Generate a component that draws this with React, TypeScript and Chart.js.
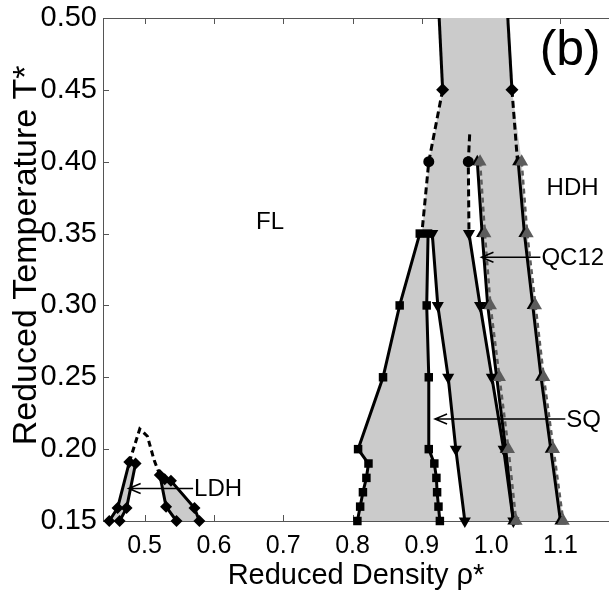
import React, { useEffect, useRef } from 'react';
import { Chart, registerables } from 'chart.js';

Chart.register(...registerables);

const FONT = '"Liberation Sans", Arial, Helvetica, sans-serif';

// Axis ticks
const densityTicks = [0.5, 0.6, 0.7, 0.8, 0.9, 1.0, 1.1];
const temperatureTicks = [0.15, 0.2, 0.25, 0.3, 0.35, 0.4, 0.45, 0.5];

// Upper branch of the FL / high-density coexistence envelope
const topT = [0.5, 0.45];
const topLeftRho = [0.925, 0.93];
const topRightRho = [1.024, 1.03];
const leftDashT = [0.45, 0.4, 0.35];
const leftDashRho = [0.93, 0.91, 0.9];
const midDashT = [0.419, 0.4, 0.35];
const midDashRho = [0.969, 0.967, 0.968];
const rightDashT = [0.45, 0.4];
const rightDashRho = [1.03, 1.038];

// FL–SQ coexistence (squares)
const sqT = [0.35, 0.3, 0.25, 0.2, 0.19, 0.18, 0.17, 0.16, 0.15];
const flSqRho = [0.897, 0.868, 0.844, 0.808, 0.823, 0.82, 0.815, 0.811, 0.807];
const sqFlRho = [0.909, 0.907, 0.91, 0.91, 0.918, 0.921, 0.922, 0.924, 0.926];

// SQ / QC12 boundaries (down triangles)
const mainT = [0.35, 0.3, 0.25, 0.2, 0.15];
const sqQcRho = [0.915, 0.923, 0.938, 0.949, 0.962];
const qcSqRho = [0.968, 0.984, 1.001, 1.018, 1.032];

// QC12 / HDH boundaries (up triangles)
const upT = [0.4, 0.35, 0.3, 0.25, 0.2, 0.15];
const qcHdhRho = [0.98, 0.987, 0.995, 1.008, 1.021, 1.032];
const qcHdhRhoB = [0.984, 0.991, 0.999, 1.012, 1.025, 1.036];
const hdhQcRho = [1.039, 1.048, 1.06, 1.072, 1.086, 1.1];
const hdhQcRhoB = [1.044, 1.052, 1.064, 1.076, 1.09, 1.104];

// Low-density hexagonal (LDH) pockets
const ldhAT = [0.15, 0.159, 0.191];
const ldhARho = [0.449, 0.461, 0.478];
const ldhBT = [0.15, 0.159, 0.19];
const ldhBRho = [0.464, 0.474, 0.487];
const ldhCT = [0.182, 0.16, 0.15];
const ldhCRho = [0.522, 0.531, 0.546];
const ldhDT = [0.179, 0.178, 0.159, 0.15];
const ldhDRho = [0.529, 0.538, 0.572, 0.579];
const ldhDashT = [0.191, 0.214, 0.209, 0.192, 0.182];
const ldhDashRho = [0.478, 0.493, 0.504, 0.514, 0.522];

// Arrow call-outs
const calloutText = ['LDH', 'SQ', 'QC12'];
const calloutRho = [0.57, 1.107, 1.071];
const calloutTipRho = [0.477, 0.919, 0.986];
const calloutT = [0.1726, 0.221, 0.3335];

// Phase labels
const phaseText = ['FL', 'HDH'];
const phaseRho = [0.681, 1.1175];
const phaseT = [0.358, 0.3816];
const panelText = '(b)';
const panelRho = 1.114;
const panelT = 0.4767;

type P = { x: number; y: number };
const pts = (rho: number[], t: number[]): P[] => rho.map((r, i) => ({ x: r, y: t[i] }));
const rev = (a: P[]): P[] => a.slice().reverse();

const GRAY_FILL = '#cbcbcb';
const MARK_GRAY = '#5c5c5c';

function area(points: P[], color: string, order: number) {
  return {
    type: 'line' as const,
    data: [...points, points[0]],
    borderColor: 'rgba(0,0,0,0)',
    borderWidth: 0,
    backgroundColor: color,
    fill: 'shape',
    pointRadius: 0,
    tension: 0,
    order,
  };
}

function curve(points: P[], opts: Record<string, unknown>) {
  return {
    type: 'line' as const,
    data: points,
    borderColor: '#000',
    borderWidth: 3,
    backgroundColor: '#000',
    pointBackgroundColor: '#000',
    pointBorderColor: '#000',
    pointBorderWidth: 0,
    fill: false,
    tension: 0,
    clip: false,
    order: 3,
    ...opts,
  };
}

const framePlugin = {
  id: 'frame',
  beforeDatasetsDraw(chart: any) {
    const { ctx, chartArea: a, scales } = chart;
    const x = scales.x;
    const y = scales.y;
    ctx.save();
    ctx.strokeStyle = '#555';
    ctx.lineWidth = 1;
    ctx.beginPath();
    ctx.moveTo(a.left, a.top + 0.5);
    ctx.lineTo(a.right, a.top + 0.5);
    for (const v of densityTicks) {
      const px = Math.round(x.getPixelForValue(v)) + 0.5;
      ctx.moveTo(px, a.bottom);
      ctx.lineTo(px, a.bottom - 6);
      ctx.moveTo(px, a.top);
      ctx.lineTo(px, a.top + 6);
    }
    for (const v of temperatureTicks) {
      const py = Math.round(y.getPixelForValue(v)) + 0.5;
      ctx.moveTo(a.left, py);
      ctx.lineTo(a.left + 6, py);
    }
    ctx.stroke();
    ctx.restore();
  },
};

const labelPlugin = {
  id: 'phaseLabels',
  afterDatasetsDraw(chart: any) {
    const { ctx, scales } = chart;
    const x = scales.x;
    const y = scales.y;
    ctx.save();
    ctx.fillStyle = '#000';
    ctx.strokeStyle = '#000';
    ctx.font = `24px ${FONT}`;
    ctx.textBaseline = 'middle';
    // arrows with open heads
    calloutText.forEach((txt, i) => {
      const tail = x.getPixelForValue(calloutRho[i]);
      const tip = x.getPixelForValue(calloutTipRho[i]);
      const py = y.getPixelForValue(calloutT[i]);
      ctx.lineWidth = 1.5;
      ctx.beginPath();
      ctx.moveTo(tail, py);
      ctx.lineTo(tip, py);
      ctx.moveTo(tip + 12, py - 5);
      ctx.lineTo(tip, py);
      ctx.lineTo(tip + 12, py + 5);
      ctx.stroke();
      ctx.textAlign = 'left';
      ctx.fillText(txt, tail + 1, py + 1);
    });
    ctx.textAlign = 'center';
    phaseText.forEach((txt, i) => {
      ctx.fillText(txt, x.getPixelForValue(phaseRho[i]), y.getPixelForValue(phaseT[i]));
    });
    ctx.font = `50px ${FONT}`;
    ctx.fillText(panelText, x.getPixelForValue(panelRho), y.getPixelForValue(panelT));
    ctx.restore();
  },
};

export default function App() {
  const canvasRef = useRef<HTMLCanvasElement | null>(null);

  useEffect(() => {
    if (!canvasRef.current) return;

    const topLeft = pts(topLeftRho, topT);
    const topRight = pts(topRightRho, topT);
    const leftDash = pts(leftDashRho, leftDashT);
    const midDash = pts(midDashRho, midDashT);
    const rightDash = pts(rightDashRho, rightDashT);
    const flSq = pts(flSqRho, sqT);
    const sqFl = pts(sqFlRho, sqT);
    const sqQc = pts(sqQcRho, mainT);
    const qcSq = pts(qcSqRho, mainT);
    const qcHdh = pts(qcHdhRho, upT);
    const qcHdhB = pts(qcHdhRhoB, upT);
    const hdhQc = pts(hdhQcRho, upT);
    const hdhQcB = pts(hdhQcRhoB, upT);
    const ldhA = pts(ldhARho, ldhAT);
    const ldhB = pts(ldhBRho, ldhBT);
    const ldhC = pts(ldhCRho, ldhCT);
    const ldhD = pts(ldhDRho, ldhDT);
    const ldhDash = pts(ldhDashRho, ldhDashT);

    // coexistence envelope
    const envelope = [
      ...topLeft,
      ...leftDash.slice(1),
      ...flSq,
      ...rev(hdhQcB),
      ...rev(rightDash).slice(1),
      ...rev(topRight),
    ];
    const sqWindow = [...sqFl, ...rev(sqQc)];
    const qcWindow = [midDash[1], ...qcSq, ...rev(qcHdh)];
    const ldhLeft = [...ldhA, ...rev(ldhB)];
    const ldhRight = [...ldhC, ...rev(ldhD)];

    const dashed = [7, 4];
    const grayLine = {
      borderColor: MARK_GRAY,
      borderWidth: 2.5,
      borderDash: [5, 4],
      pointStyle: 'triangle',
      pointRadius: 7.5,
      pointBackgroundColor: MARK_GRAY,
      pointBorderColor: MARK_GRAY,
      order: 2,
    };
    const chart = new Chart(canvasRef.current, {
      type: 'line',
      data: {
        datasets: [
          area(envelope, GRAY_FILL, 10),
          area(sqWindow, '#ffffff', 9),
          area(qcWindow, '#ffffff', 9),
          area(ldhLeft, GRAY_FILL, 9),
          area(ldhRight, GRAY_FILL, 9),
          curve(topLeft, { pointStyle: 'rectRot', pointRadius: [0, 6.5] }),
          curve(topRight, { pointStyle: 'rectRot', pointRadius: [0, 6.5] }),
          curve(leftDash, { borderDash: dashed, pointStyle: 'circle', pointRadius: [0, 5.5, 0] }),
          curve(midDash, { borderDash: dashed, pointStyle: 'circle', pointRadius: [0, 5.5, 0] }),
          curve(rightDash, { borderDash: dashed, pointRadius: 0 }),
          curve(flSq, { pointStyle: 'rect', pointRadius: 6 }),
          curve(sqFl, { pointStyle: 'rect', pointRadius: 6 }),
          curve(sqQc, { pointStyle: 'triangle', pointRotation: 180, pointRadius: 7 }),
          curve(qcSq, { pointStyle: 'triangle', pointRotation: 180, pointRadius: 7 }),
          curve(qcHdh, { pointStyle: 'triangle', pointRadius: 7 }),
          curve(hdhQc, { pointStyle: 'triangle', pointRadius: 7 }),
          curve(qcHdhB, grayLine),
          curve(hdhQcB, grayLine),
          curve(ldhA, { pointStyle: 'rectRot', pointRadius: 6 }),
          curve(ldhB, { pointStyle: 'rectRot', pointRadius: 6 }),
          curve(ldhC, { pointStyle: 'rectRot', pointRadius: 6 }),
          curve(ldhD, { pointStyle: 'rectRot', pointRadius: 6 }),
          curve(ldhDash, { borderDash: [6, 4], pointRadius: 0 }),
        ] as any,
      },
      options: {
        animation: false,
        responsive: false,
        devicePixelRatio: 1,
        layout: { autoPadding: false, padding: { top: 18, right: 0, left: 0, bottom: 0 } },
        plugins: {
          legend: { display: false },
          tooltip: { enabled: false },
        },
        scales: {
          x: {
            type: 'linear',
            min: 0.44,
            max: 1.17,
            afterBuildTicks: (s: any) => {
              s.ticks = densityTicks.map((v) => ({ value: v }));
            },
            afterFit: (s: any) => {
              s.height = 74;
              s.paddingLeft = 0;
              s.paddingRight = 0;
            },
            grid: { display: false, drawTicks: false },
            border: { display: true, color: '#555', width: 1 },
            ticks: {
              color: '#000',
              font: { family: FONT, size: 25 },
              padding: 10,
              maxRotation: 0,
              autoSkip: false,
              callback: (v: any) => Number(v).toFixed(1),
            },
            title: {
              display: true,
              text: 'Reduced Density ρ*',
              color: '#000',
              font: { family: FONT, size: 29 },
              padding: { top: 0, bottom: 2 },
            },
          },
          y: {
            type: 'linear',
            min: 0.15,
            max: 0.5,
            afterBuildTicks: (s: any) => {
              s.ticks = temperatureTicks.map((v) => ({ value: v }));
            },
            afterFit: (s: any) => {
              s.width = 103;
              s.paddingTop = 0;
              s.paddingBottom = 0;
            },
            grid: { display: false, drawTicks: false },
            border: { display: true, color: '#555', width: 1 },
            ticks: {
              color: '#000',
              font: { family: FONT, size: 29 },
              padding: 6,
              autoSkip: false,
              callback: (v: any) => Number(v).toFixed(2),
            },
            title: {
              display: true,
              text: '   Reduced Temperature T*',
              color: '#000',
              font: { family: FONT, size: 34 },
              padding: { top: 6, bottom: 0 },
            },
          },
        },
      },
      plugins: [framePlugin, labelPlugin],
    });

    return () => chart.destroy();
  }, []);

  return (
    <div style={{ position: 'fixed', left: 0, top: 0, width: 609, height: 595, background: '#fff' }}>
      <canvas ref={canvasRef} width={609} height={595} />
    </div>
  );
}
